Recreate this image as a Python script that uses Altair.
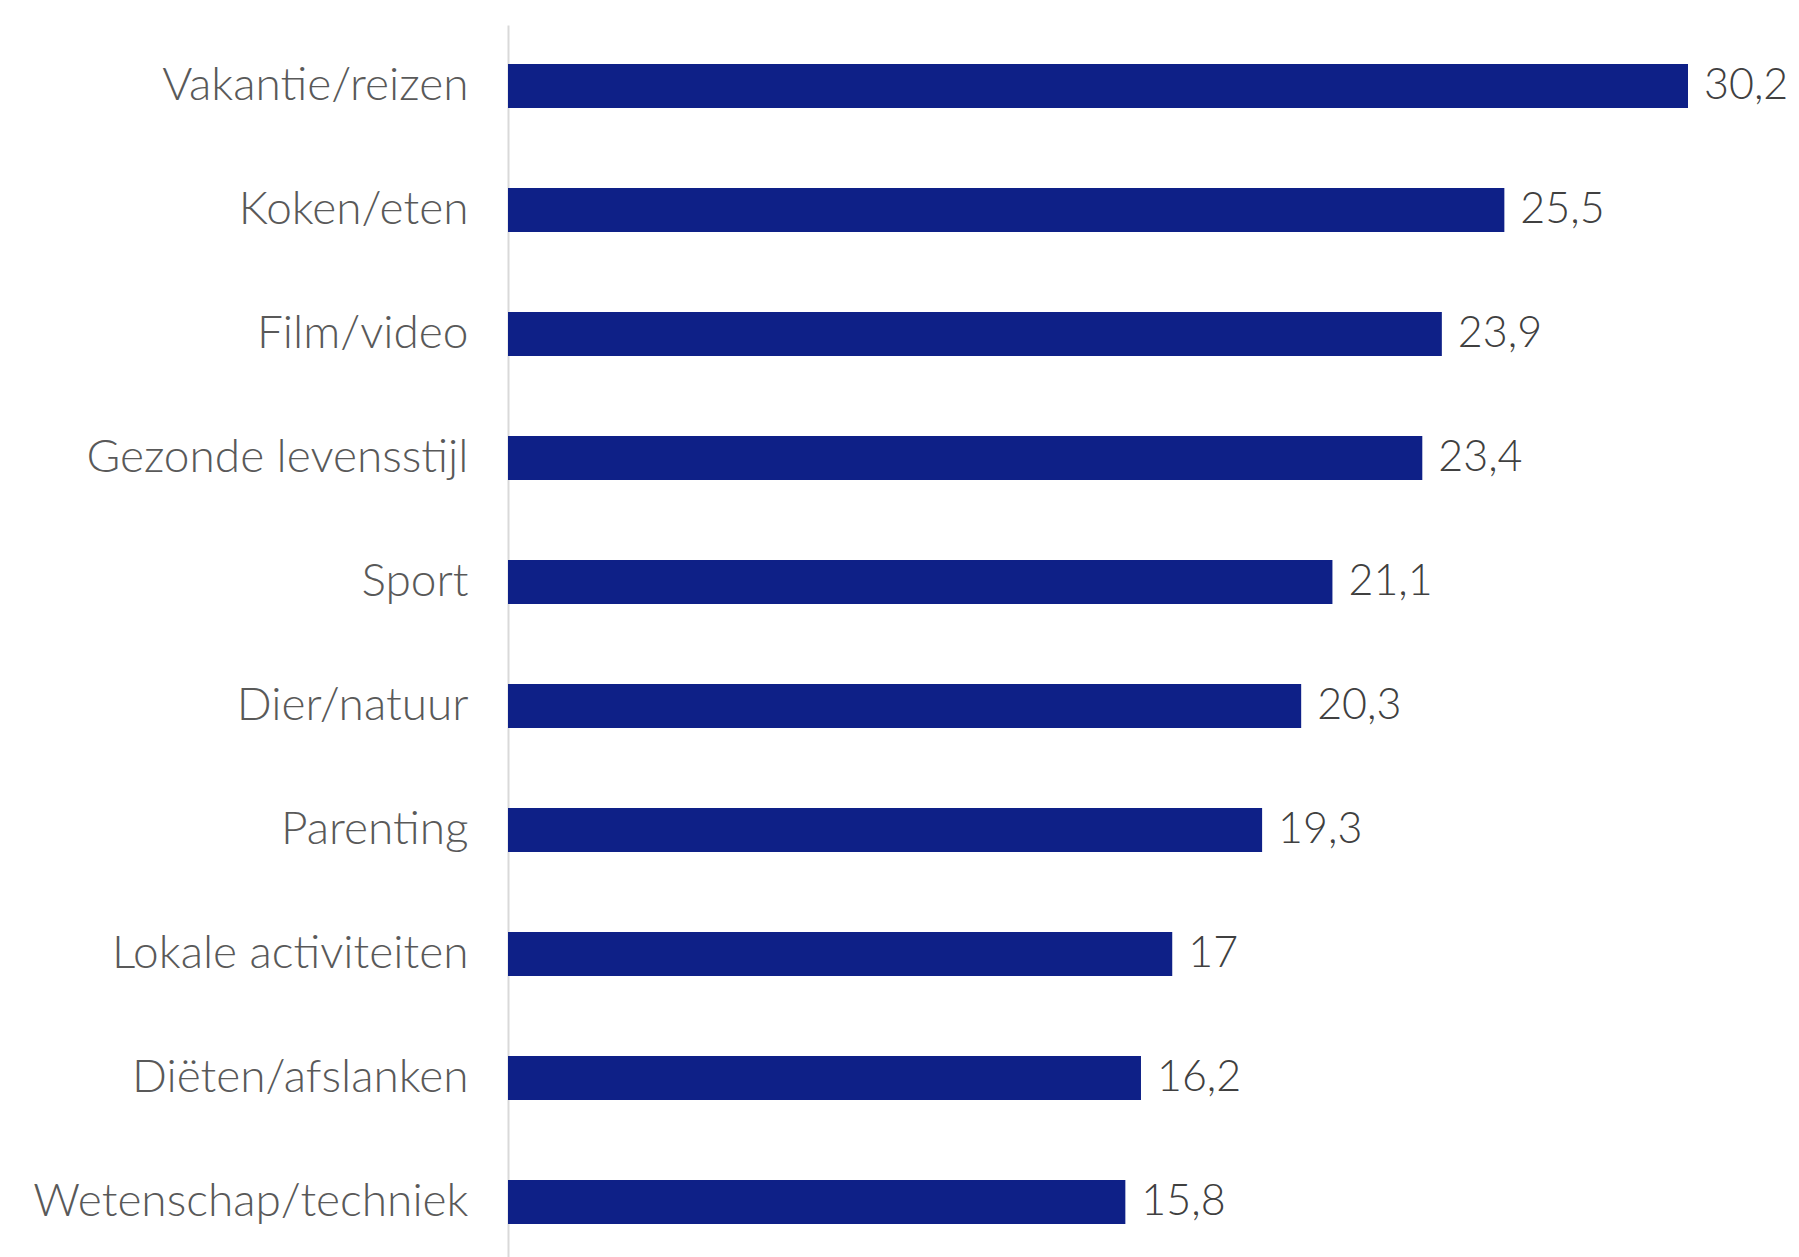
import altair as alt
import pandas as pd

categories = ["Vakantie/reizen", "Koken/eten", "Film/video", "Gezonde levensstijl", "Sport",
              "Dier/natuur", "Parenting", "Lokale activiteiten", "Diëten/afslanken", "Wetenschap/techniek"]
values = [30.2, 25.5, 23.9, 23.4, 21.1, 20.3, 19.3, 17.0, 16.2, 15.8]
value_labels = ["30,2", "25,5", "23,9", "23,4", "21,1", "20,3", "19,3", "17", "16,2", "15,8"]

df = pd.DataFrame({"cat": categories, "val": values, "lbl": value_labels})

FONT = "Lato"

y_enc = alt.Y("cat:N", sort=categories,
              scale=alt.Scale(paddingInner=0.645, paddingOuter=0.315),
              axis=alt.Axis(title=None, ticks=False, grid=False, domain=True,
                            domainColor="#d9d9d9", domainWidth=2,
                            labelFont=FONT, labelFontSize=46, labelFontWeight=300,
                            labelColor="#595959", labelPadding=40, labelLimit=600))
x_enc = alt.X("val:Q", scale=alt.Scale(domain=[0, 30.2], nice=False, zero=True), axis=None)

bars = alt.Chart(df).mark_bar(color="#0E2087").encode(x=x_enc, y=y_enc)
text = alt.Chart(df).mark_text(align="left", baseline="middle", dx=16, font=FONT,
                               fontSize=43, fontWeight=300, color="#404040").encode(
    x=x_enc, y=alt.Y("cat:N", sort=categories), text="lbl:N")

chart = (bars + text).properties(
    width=1180, height=1238,
    autosize=alt.AutoSizeParams(type="none"),
    padding={"left": 500, "top": 17, "right": 100, "bottom": 0},
).configure_view(stroke=None)

chart.save("out.html", embed_options={"renderer": "svg", "actions": False})
